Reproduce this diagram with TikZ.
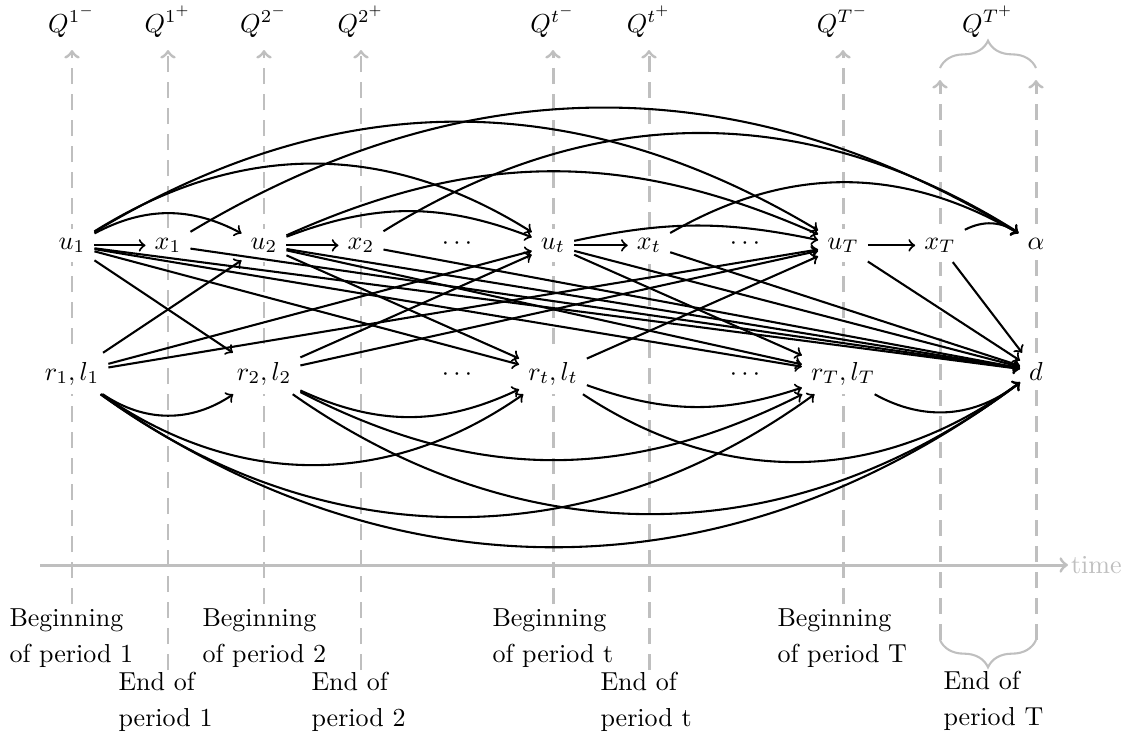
\documentclass[tikz,border=0pt]{standalone}
\usetikzlibrary{decorations.pathreplacing}
\begin{document}
\begin{tikzpicture}[x=0.38462pt,y=-0.38462pt,
  tl/.style={->, draw=black!25, line width=1.15pt, dash pattern=on 6pt off 4pt},
  axis/.style={->, draw=black!25, line width=1.15pt},
  brc/.style={draw=black!25, thick, decorate, decoration={brace, amplitude=10.5pt}},
  nd/.style={anchor=base, fill=white},
  ql/.style={anchor=base},
  lbl/.style={anchor=base west, align=left, inner sep=0pt},
  ed/.style={->, thick},
  bl/.style={->, thick, bend left=#1},
  br/.style={->, thick, bend right=#1}]
\useasboundingbox (0,0) rectangle (1133,739);

% time marker coordinates
\foreach \n/\x in {a/72,c/264,f/553,i/843}{
  \coordinate (top\n) at (\x,50);
  \coordinate (bot\n) at (\x,604);
}
\foreach \n/\x in {b/168,d/361,g/649}{
  \coordinate (top\n) at (\x,50);
  \coordinate (bot\n) at (\x,670);
}
\foreach \n/\x in {j/940,k/1036}{
  \coordinate (top\n) at (\x,80);
  \coordinate (bot\n) at (\x,640);
}
\foreach \n in {a,b,c,d,f,g,i,j,k}{
  \draw[tl] (bot\n) -- (top\n);
}

% time axis
\coordinate (t0) at (40,565);
\node[anchor=west, inner sep=1pt, text=black!25] (time) at (1068,565) {time};
\draw[axis] (t0) -- (time.west);

% braces
\coordinate (bra1) at (940,68);
\coordinate (bra2) at (1036,68);
\draw[brc] (bra1) -- (bra2);
\coordinate (brb1) at (1036,640);
\coordinate (brb2) at (940,640);
\draw[brc] (brb1) -- (brb2);

% Q labels
\node[ql] (q1m) at (72,32) {$Q^{1^-}$};
\node[ql] (q1p) at (168,32) {$Q^{1^+}$};
\node[ql] (q2m) at (264,32) {$Q^{2^-}$};
\node[ql] (q2p) at (361,32) {$Q^{2^+}$};
\node[ql] (qtm) at (553,32) {$Q^{t^-}$};
\node[ql] (qtp) at (649,32) {$Q^{t^+}$};
\node[ql] (qTm) at (843,32) {$Q^{T^-}$};
\node[ql] (qTp) at (988,32) {$Q^{T^+}$};

% bottom labels (base = last line)
\node[lbl] (b1) at (9,662) {Beginning\\[1.85pt]of period 1};
\node[lbl] (e1) at (118,726) {End of\\[1.85pt]period 1};
\node[lbl] (b2) at (202,662) {Beginning\\[1.85pt]of period 2};
\node[lbl] (e2) at (311,726) {End of\\[1.85pt]period 2};
\node[lbl] (bt) at (492,662) {Beginning\\[1.85pt]of period t};
\node[lbl] (et) at (600,726) {End of\\[1.85pt]period t};
\node[lbl] (bT) at (777,662) {Beginning\\[1.85pt]of period T};
\node[lbl] (eT) at (943,725) {End of\\[1.85pt]period T};

% main nodes
\node[nd] (u1) at (72,249) {$u_1$};
\node[nd] (x1) at (168,249) {$x_1$};
\node[nd] (u2) at (264,249) {$u_2$};
\node[nd] (x2) at (361,249) {$x_2$};
\node[nd] (dt1) at (457,249) {$\cdots$};
\node[nd] (ut) at (553,249) {$u_t$};
\node[nd] (xt) at (649,249) {$x_t$};
\node[nd] (dt2) at (745,249) {$\cdots$};
\node[nd] (uT) at (843,249) {$u_T$};
\node[nd] (xT) at (940,249) {$x_T$};
\node[nd] (al) at (1036,249) {$\alpha$};

\node[nd] (r1) at (72,380) {$r_1, l_1$};
\node[nd] (r2) at (264,380) {$r_2, l_2$};
\node[nd] (db1) at (457,380) {$\cdots$};
\node[nd] (rt) at (553,380) {$r_t, l_t$};
\node[nd] (db2) at (745,380) {$\cdots$};
\node[nd] (rT) at (843,380) {$r_T, l_T$};
\node[nd] (d) at (1036,380) {$d$};

% u -> x
\draw[ed] (u1) -- (x1);
\draw[ed] (u2) -- (x2);
\draw[ed] (ut) -- (xt);
\draw[ed] (uT) -- (xT);

% arcs above
\draw[bl=28] (u1) to (u2);
\draw[bl=32] (u1) to (ut);
\draw[bl=31] (u1) to (uT);
\draw[bl=21] (u2) to (ut);
\draw[bl=24] (u2) to (uT);
\draw[bl=12] (ut) to (uT);
\draw[bl=31] (x1) to (al);
\draw[bl=32] (x2) to (al);
\draw[bl=30] (xt) to (al);
\draw[bl=31] (xT) to (al);

% u -> r,l
\draw[ed] (u1) -- (r2);
\draw[ed] (u1) -- (rt);
\draw[ed] (u1) -- (rT);
\draw[ed] (u2) -- (rt);
\draw[ed] (u2) -- (rT);
\draw[ed] (ut) -- (rT);

% -> d
\foreach \s in {u1,x1,u2,x2,ut,xt,uT,xT}{
  \draw[ed] (\s) -- (d);
}

% r,l -> u
\draw[ed] (r1) -- (u2);
\draw[ed] (r1) -- (ut);
\draw[ed] (r1) -- (uT);
\draw[ed] (r2) -- (ut);
\draw[ed] (r2) -- (uT);
\draw[ed] (rt) -- (uT);

% arcs below
\draw[br=34] (r1) to (r2);
\draw[br=35] (r1) to (rt);
\draw[br=36] (r1) to (rT);
\draw[br=36] (r1) to (d);
\draw[br=25] (r2) to (rt);
\draw[br=27] (r2) to (rT);
\draw[br=36] (r2) to (d);
\draw[br=19] (rt) to (rT);
\draw[br=35] (rt) to (d);
\draw[br=34] (rT) to (d);
\end{tikzpicture}
\end{document}
